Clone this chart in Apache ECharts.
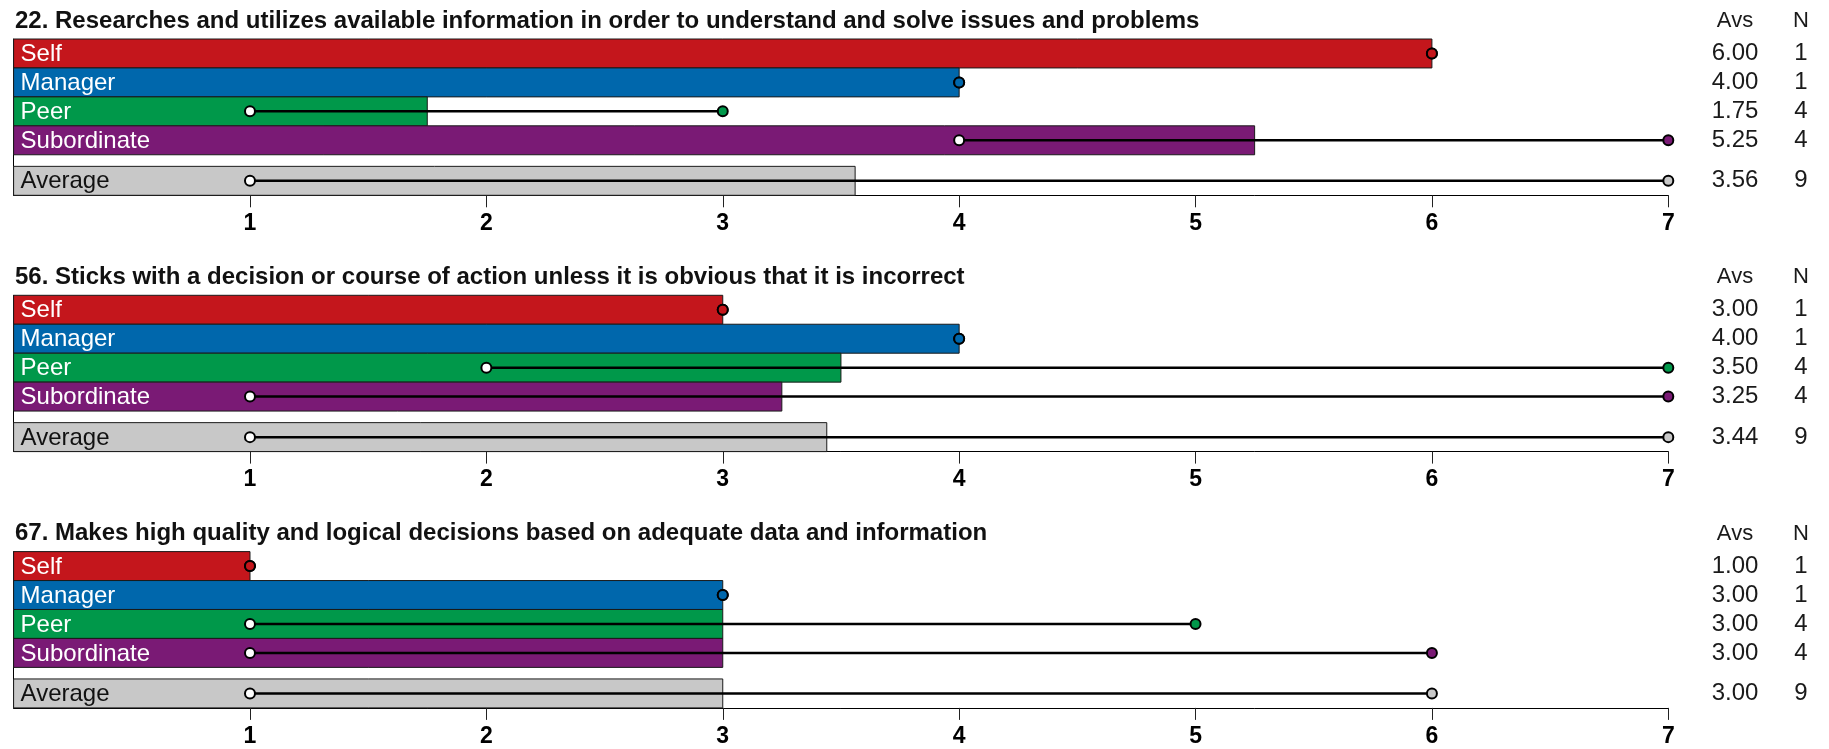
<!DOCTYPE html>
<html>
<head>
<meta charset="utf-8">
<title>Decision making items</title>
<script src="https://cdn.jsdelivr.net/npm/echarts@6/dist/echarts.min.js"></script>
<style>
  html, body { margin: 0; padding: 0; background: #fff; }
  #chart { width: 1829px; height: 749px; }
</style>
</head>
<body>
<div id="chart"></div>
<script>
// ---- data ----
const itemTitles = [
  '22. Researches and utilizes available information in order to understand and solve issues and problems',
  '56. Sticks with a decision or course of action unless it is obvious that it is incorrect',
  '67. Makes high quality and logical decisions based on adequate data and information'
];
const raterGroups = ['Self', 'Manager', 'Peer', 'Subordinate', 'Average'];
const tickValues = [1, 2, 3, 4, 5, 6, 7];

// mean score per rater group, one array per item
const avsItem22 = [6.00, 4.00, 1.75, 5.25, 3.56];
const avsItem56 = [3.00, 4.00, 3.50, 3.25, 3.44];
const avsItem67 = [1.00, 3.00, 3.00, 3.00, 3.00];

// number of raters
const nItem22 = [1, 1, 4, 4, 9];
const nItem56 = [1, 1, 4, 4, 9];
const nItem67 = [1, 1, 4, 4, 9];

// lowest and highest individual rating
const minItem22 = [6, 4, 1, 4, 1];
const maxItem22 = [6, 4, 3, 7, 7];
const minItem56 = [3, 4, 2, 1, 1];
const maxItem56 = [3, 4, 7, 7, 7];
const minItem67 = [1, 3, 1, 1, 1];
const maxItem67 = [1, 3, 5, 6, 6];

const avsAll = [avsItem22, avsItem56, avsItem67];
const nAll = [nItem22, nItem56, nItem67];
const minAll = [minItem22, minItem56, minItem67];
const maxAll = [maxItem22, maxItem56, maxItem67];

// ---- styling / layout ----
const groupColors = ['#C4161C', '#0067AC', '#00984A', '#7A1A75', '#C8C8C8'];
const labelColors = ['#ffffff', '#ffffff', '#ffffff', '#ffffff', '#111111'];
// row centre on the band axis: four rater rows, a small gap, then the average row
const rowSlots = [0.5, 1.5, 2.5, 3.5, 4.9];
const BAND_MAX = 5.4;

const GRID_LEFT = 13.6;
const GRID_RIGHT = 160.7;
const PANEL_TOP = 39;
const PANEL_STEP = 256.3;
const PANEL_H = 156.3;
const AVS_X = 1735;
const N_X = 1801;
const FONT = '"Liberation Sans", Arial, Helvetica, sans-serif';

const chart = echarts.init(document.getElementById('chart'), null, { renderer: 'canvas' });

const grids = [], xAxes = [], yAxes = [], series = [], graphics = [];

function centredText(str, x, y, fill, font) {
  return {
    type: 'text',
    style: {
      text: str, x: x, y: y, fill: fill, font: font,
      textAlign: 'center', textVerticalAlign: 'middle',
      align: 'center', verticalAlign: 'middle'
    }
  };
}

itemTitles.forEach((title, k) => {
  const top = PANEL_TOP + k * PANEL_STEP;
  grids.push({ left: GRID_LEFT, right: GRID_RIGHT, top: top, height: PANEL_H, containLabel: false });

  xAxes.push({
    gridIndex: k, type: 'value', min: 0, max: 7, interval: 1,
    axisLine: { show: true, onZero: false, lineStyle: { color: '#000', width: 1 } },
    axisTick: { show: true, customValues: tickValues, length: 12, lineStyle: { color: '#222', width: 1 } },
    axisLabel: {
      customValues: tickValues, margin: 17,
      color: '#000', fontSize: 23, fontWeight: 'bold', fontFamily: FONT
    },
    splitLine: { show: false }
  });

  yAxes.push({
    gridIndex: k, type: 'value', inverse: true, min: 0, max: BAND_MAX,
    axisLine: { show: true, onZero: false, lineStyle: { color: '#000', width: 1 } },
    axisTick: { show: false }, axisLabel: { show: false }, splitLine: { show: false }
  });

  const rows = raterGroups.map((g, i) => [avsAll[k][i], rowSlots[i], minAll[k][i], maxAll[k][i], nAll[k][i], i]);

  series.push({
    type: 'custom',
    name: title,
    xAxisIndex: k, yAxisIndex: k,
    clip: false,
    encode: { x: [0, 2, 3], y: 1 },
    data: rows,
    renderItem: function (params, api) {
      const avs = api.value(0), slot = api.value(1);
      const lo = api.value(2), hi = api.value(3), n = api.value(4), idx = api.value(5);
      const p0 = api.coord([0, slot - 0.5]);
      const p1 = api.coord([avs, slot + 0.5]);
      const cy = api.coord([0, slot])[1];
      const pLo = api.coord([lo, slot]);
      const pHi = api.coord([hi, slot]);
      return {
        type: 'group',
        children: [
          {
            type: 'rect',
            shape: { x: p0[0], y: p0[1], width: p1[0] - p0[0], height: p1[1] - p0[1] },
            style: { fill: groupColors[idx], stroke: '#1a1a1a', lineWidth: 1 }
          },
          {
            type: 'text',
            style: {
              text: raterGroups[idx], x: p0[0] + 7, y: cy + 1,
              fill: labelColors[idx], font: '24px ' + FONT,
              textAlign: 'left', textVerticalAlign: 'middle',
              align: 'left', verticalAlign: 'middle'
            }
          },
          {
            type: 'line',
            shape: { x1: pLo[0], y1: cy, x2: pHi[0], y2: cy },
            style: { stroke: '#000', lineWidth: 2.5 }
          },
          {
            type: 'circle',
            shape: { cx: pLo[0], cy: cy, r: 5 },
            style: { fill: '#ffffff', stroke: '#000', lineWidth: 2 }
          },
          {
            type: 'circle',
            shape: { cx: pHi[0], cy: cy, r: 5 },
            style: { fill: groupColors[idx], stroke: '#000', lineWidth: 2 }
          },
          centredText(avs.toFixed(2), AVS_X, cy, '#1a1a1a', '24px ' + FONT),
          centredText(String(n), N_X, cy, '#1a1a1a', '24px ' + FONT)
        ]
      };
    }
  });

  const headY = top - 18;
  graphics.push(
    { type: 'text', x: 15, y: headY,
      style: { text: title, fill: '#111', font: 'bold 24px ' + FONT, align: 'left', verticalAlign: 'middle' } },
    { type: 'text', x: AVS_X, y: headY,
      style: { text: 'Avs', fill: '#1a1a1a', font: '22px ' + FONT, align: 'center', verticalAlign: 'middle' } },
    { type: 'text', x: N_X, y: headY,
      style: { text: 'N', fill: '#1a1a1a', font: '22px ' + FONT, align: 'center', verticalAlign: 'middle' } }
  );
});

chart.setOption({
  animation: false,
  backgroundColor: '#ffffff',
  grid: grids,
  xAxis: xAxes,
  yAxis: yAxes,
  series: series,
  graphic: graphics
});
</script>
</body>
</html>
